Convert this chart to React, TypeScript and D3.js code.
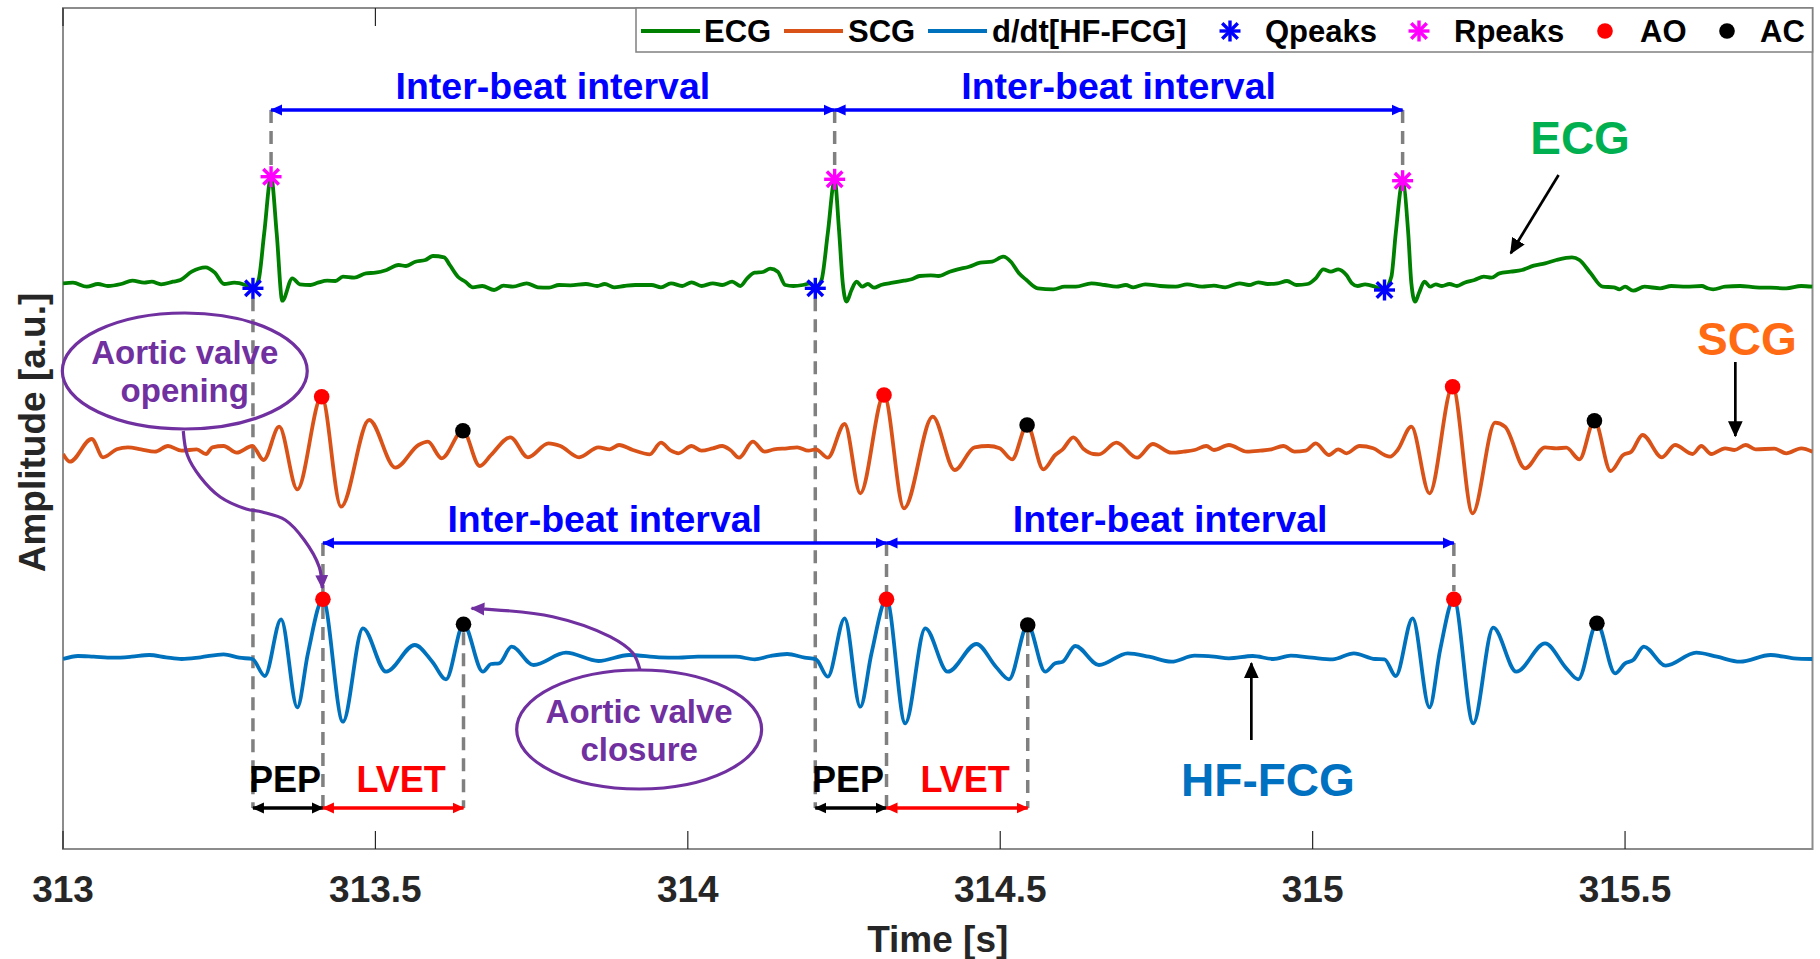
import React from 'react';
import * as d3 from 'd3';

type P = [number, number];

// ---------- axes ----------
const xDomain: [number, number] = [313, 315.8];
const yDomain: [number, number] = [0, 8.41];
const xTicks = [313, 313.5, 314, 314.5, 315, 315.5];
const xTickLabels = ['313', '313.5', '314', '314.5', '315', '315.5'];

// ---------- signals (time [s], amplitude [a.u.]) ----------
const ecg: P[] = [
  [313.000,5.657],[313.016,5.663],[313.038,5.623],[313.056,5.65],[313.072,5.63],[313.093,5.65],[313.111,5.683],[313.130,5.663],[313.142,5.673],[313.157,5.647],
  [313.176,5.673],[313.188,5.69],[313.206,5.773],[313.228,5.817],[313.243,5.763],[313.258,5.65],[313.274,5.663],[313.292,5.64],[313.304,5.607],[313.313,5.69],
  [313.322,6.157],[313.333,6.723],[313.342,6.157],[313.351,5.483],[313.367,5.707],[313.379,5.647],[313.396,5.64],[313.408,5.663],[313.423,5.683],[313.436,5.68],
  [313.448,5.723],[313.466,5.713],[313.485,5.757],[313.500,5.763],[313.518,5.79],[313.537,5.84],[313.549,5.83],[313.564,5.873],[313.580,5.89],[313.592,5.93],
  [313.610,5.917],[313.619,5.84],[313.632,5.723],[313.644,5.673],[313.656,5.617],[313.671,5.63],[313.690,5.59],[313.705,5.633],[313.720,5.623],[313.742,5.657],
  [313.760,5.617],[313.778,5.613],[313.794,5.64],[313.812,5.637],[313.837,5.65],[313.855,5.63],[313.867,5.65],[313.882,5.617],[313.898,5.63],[313.916,5.64],
  [313.942,5.64],[313.957,5.617],[313.973,5.657],[313.991,5.63],[314.006,5.667],[314.022,5.63],[314.040,5.657],[314.055,5.64],[314.071,5.673],[314.084,5.63],
  [314.095,5.707],[314.107,5.763],[314.120,5.77],[314.132,5.803],[314.144,5.773],[314.156,5.64],[314.169,5.63],[314.184,5.64],[314.196,5.657],[314.204,5.607],
  [314.214,5.69],[314.224,6.157],[314.235,6.69],[314.242,6.19],[314.248,5.657],[314.254,5.473],[314.262,5.59],[314.270,5.673],[314.279,5.623],[314.288,5.65],
  [314.298,5.613],[314.309,5.64],[314.328,5.663],[314.346,5.683],[314.358,5.697],[314.371,5.73],[314.389,5.737],[314.401,5.73],[314.419,5.773],[314.432,5.797],
  [314.450,5.823],[314.468,5.863],[314.487,5.873],[314.505,5.923],[314.517,5.873],[314.530,5.757],[314.542,5.69],[314.560,5.607],[314.585,5.597],[314.603,5.623],
  [314.621,5.623],[314.646,5.657],[314.667,5.64],[314.686,5.623],[314.701,5.64],[314.713,5.617],[314.732,5.647],[314.756,5.63],[314.781,5.623],[314.799,5.647],
  [314.823,5.623],[314.842,5.633],[314.860,5.617],[314.883,5.657],[314.898,5.64],[314.913,5.667],[314.928,5.65],[314.944,5.657],[314.959,5.68],[314.974,5.64],
  [314.992,5.65],[315.005,5.707],[315.017,5.797],[315.029,5.773],[315.041,5.797],[315.054,5.74],[315.063,5.657],[315.072,5.63],[315.084,5.647],[315.100,5.623],
  [315.114,5.59],[315.126,5.723],[315.133,6.157],[315.144,6.673],[315.153,6.157],[315.158,5.657],[315.164,5.473],[315.170,5.557],[315.179,5.673],[315.188,5.623],
  [315.197,5.647],[315.207,5.63],[315.219,5.65],[315.231,5.63],[315.243,5.663],[315.259,5.69],[315.274,5.723],[315.286,5.713],[315.299,5.757],[315.317,5.773],
  [315.335,5.79],[315.354,5.833],[315.372,5.857],[315.390,5.89],[315.415,5.917],[315.427,5.89],[315.445,5.757],[315.464,5.623],[315.482,5.617],[315.491,5.597],
  [315.500,5.623],[315.513,5.583],[315.531,5.623],[315.556,5.607],[315.574,5.63],[315.598,5.623],[315.623,5.63],[315.632,5.607],[315.641,5.597],[315.660,5.623],
  [315.684,5.63],[315.709,5.617],[315.733,5.613],[315.758,5.607],[315.782,5.63],[315.800,5.623],
];

const scg: P[] = [
  [313.000,3.95],[313.011,3.873],[313.046,4.10],[313.064,3.917],[313.086,3.997],[313.104,4.017],[313.125,3.997],[313.147,3.973],[313.168,4.03],[313.190,3.983],
  [313.214,3.997],[313.229,3.95],[313.239,4.017],[313.257,4.03],[313.278,3.963],[313.303,4.03],[313.321,3.89],[313.346,4.223],[313.375,3.597],[313.414,4.523],
  [313.445,3.423],[313.490,4.29],[313.532,3.813],[313.569,4.04],[313.584,4.073],[313.606,3.907],[313.640,4.183],[313.667,3.83],[313.685,3.94],[313.716,4.117],
  [313.744,3.917],[313.777,4.057],[313.796,4.03],[313.826,3.917],[313.857,4.017],[313.875,3.997],[313.890,4.04],[313.912,3.99],[313.939,3.947],[313.957,4.063],
  [313.973,3.983],[313.985,3.957],[314.006,4.03],[314.022,3.983],[314.040,4.007],[314.055,4.03],[314.068,3.99],[314.082,3.913],[314.104,4.073],[314.123,3.973],
  [314.138,3.997],[314.159,4.007],[314.175,4.017],[314.193,3.983],[314.205,3.997],[314.224,3.913],[314.251,4.25],[314.276,3.557],[314.314,4.54],[314.346,3.407],
  [314.392,4.323],[314.427,3.79],[314.459,4.017],[314.481,4.03],[314.499,4.007],[314.519,3.897],[314.543,4.24],[314.569,3.797],[314.588,3.94],[314.600,3.997],
  [314.617,4.117],[314.634,3.997],[314.649,3.95],[314.658,3.947],[314.686,4.063],[314.719,3.913],[314.744,4.05],[314.774,3.963],[314.793,3.973],[314.811,3.99],
  [314.830,4.03],[314.842,3.99],[314.866,4.04],[314.895,3.973],[314.916,3.983],[314.934,3.997],[314.953,4.03],[314.971,3.973],[314.989,3.983],[315.005,4.057],
  [315.026,3.94],[315.041,3.997],[315.054,3.957],[315.075,4.03],[315.097,4.007],[315.115,3.94],[315.124,3.923],[315.136,3.99],[315.158,4.223],[315.187,3.557],
  [315.224,4.623],[315.256,3.357],[315.292,4.263],[315.308,4.223],[315.340,3.807],[315.372,4.017],[315.390,4.007],[315.406,4.013],[315.427,3.897],[315.451,4.283],
  [315.477,3.78],[315.497,3.94],[315.510,3.973],[315.528,4.14],[315.559,3.917],[315.580,4.04],[315.608,3.95],[315.622,4.03],[315.638,3.95],[315.660,4.007],
  [315.675,3.99],[315.693,4.04],[315.709,3.997],[315.739,4.003],[315.758,3.957],[315.782,4.007],[315.800,3.973],
];

const fcg: P[] = [
  [313.000,1.9],[313.024,1.93],[313.049,1.923],[313.080,1.913],[313.110,1.923],[313.138,1.94],[313.165,1.917],[313.190,1.9],[313.220,1.917],[313.257,1.947],
  [313.282,1.913],[313.303,1.9],[313.323,1.73],[313.349,2.297],[313.375,1.417],[313.392,1.957],[313.416,2.497],[313.448,1.273],[313.480,2.207],[313.517,1.773],
  [313.563,2.04],[313.591,1.873],[313.613,1.697],[313.641,2.247],[313.672,1.773],[313.685,1.85],[313.698,1.857],[313.718,2.023],[313.753,1.84],[313.805,1.963],
  [313.857,1.88],[313.906,1.94],[313.954,1.917],[313.985,1.913],[314.016,1.923],[314.046,1.923],[314.077,1.923],[314.107,1.897],[314.132,1.93],[314.159,1.95],
  [314.187,1.913],[314.205,1.897],[314.224,1.723],[314.251,2.307],[314.276,1.423],[314.294,1.957],[314.318,2.497],[314.348,1.257],[314.380,2.207],[314.416,1.773],
  [314.462,2.05],[314.493,1.823],[314.514,1.697],[314.544,2.24],[314.572,1.773],[314.588,1.857],[314.600,1.873],[314.620,2.03],[314.658,1.84],[314.704,1.957],
  [314.738,1.923],[314.774,1.873],[314.811,1.933],[314.842,1.923],[314.866,1.907],[314.904,1.93],[314.937,1.9],[314.965,1.933],[314.999,1.913],[315.032,1.897],
  [315.066,1.957],[315.100,1.9],[315.115,1.897],[315.133,1.73],[315.160,2.307],[315.187,1.417],[315.204,1.99],[315.226,2.497],[315.257,1.257],[315.289,2.213],
  [315.326,1.773],[315.372,2.057],[315.406,1.807],[315.425,1.697],[315.455,2.257],[315.484,1.757],[315.500,1.857],[315.513,1.89],[315.530,2.023],[315.565,1.833],
  [315.614,1.963],[315.647,1.923],[315.684,1.873],[315.733,1.94],[315.770,1.907],[315.800,1.9],
];

// ---------- detected fiducial points ----------
const qPeaks: P[] = [[313.304,5.607],[314.204,5.607],[315.115,5.59]];
const rPeaks: P[] = [[313.333,6.723],[314.235,6.697],[315.144,6.683]];
const scgAO: P[] = [[313.414,4.523],[314.314,4.54],[315.224,4.623]];
const scgAC: P[] = [[313.640,4.183],[314.543,4.24],[315.451,4.283]];
const fcgAO: P[] = [[313.416,2.497],[314.318,2.497],[315.226,2.497]];
const fcgAC: P[] = [[313.641,2.247],[314.544,2.24],[315.455,2.257]];

// ---------- annotation levels (a.u.) ----------
const ibiTopLevel = 7.39;
const ibiTopLabel = 7.5;
const ibiLowLevel = 3.06;
const ibiLowLabel = 3.17;
const intervalLevel = 0.41;
const intervalLabel = 0.575;
const pepBeats = [0, 1];

const signalLabels = [
  { text: 'ECG', t: 315.428, v: 6.95, color: '#00B050' },
  { text: 'SCG', t: 315.695, v: 4.94, color: '#FF6A13' },
  { text: 'HF-FCG', t: 314.9285, v: 0.53, color: '#0070C0' },
];
const labelArrows: [P, P][] = [
  [[315.3936, 6.74], [315.3171, 5.957]],
  [[315.6765, 4.87], [315.6765, 4.13]],
  [[314.9019, 1.09], [314.9019, 1.857]],
];

const openingCurve: P[] = [
  [313.1925,4.18],[313.199,3.94],[313.2197,3.72],[313.2517,3.52],[313.2933,3.40],[313.3189,3.37],
  [313.3557,3.29],[313.3861,3.09],[313.4101,2.82],[313.4149,2.61],
];
const closureCurve: P[] = [
  [313.9234,1.79],[313.9123,1.957],[313.8755,2.123],[313.7837,2.323],[313.6539,2.407],
];
const callouts = [
  { lines: ['Aortic valve', 'opening'], t: 313.1949, v: 4.78, dt: 0.196, dv: 0.58, curve: openingCurve },
  { lines: ['Aortic valve', 'closure'], t: 313.9221, v: 1.195, dt: 0.196, dv: 0.595, curve: closureCurve },
];

// ---------- layout ----------
const W = 1820, H = 959;
const L = 63, R = 1812.5, T = 8, B = 849;
const FONT = '"Liberation Sans", Arial, Helvetica, sans-serif';

const COLORS = {
  ecg: '#008000', scg: '#D95319', fcg: '#0072BD',
  q: '#0000FF', r: '#FF00FF', ao: '#FF0000', ac: '#000000',
  blue: '#0000FF', purple: '#7030A0', red: '#FF0000', grid: '#808080', text: '#262626',
};

const Star = ({ cx, cy, color, r = 10.5 }: { cx: number; cy: number; color: string; r?: number }) => {
  const d = r * 0.74;
  return (
    <g stroke={color} strokeWidth={3.4} strokeLinecap="butt">
      <line x1={cx} y1={cy - r} x2={cx} y2={cy + r} />
      <line x1={cx - r} y1={cy} x2={cx + r} y2={cy} />
      <line x1={cx - d} y1={cy - d} x2={cx + d} y2={cy + d} />
      <line x1={cx - d} y1={cy + d} x2={cx + d} y2={cy - d} />
    </g>
  );
};

export default function App() {
  const x = d3.scaleLinear().domain(xDomain).range([L, R]);
  const y = d3.scaleLinear().domain(yDomain).range([B, T]);
  const line = d3.line<P>().x((d) => x(d[0])).y((d) => y(d[1])).curve(d3.curveMonotoneX);
  const curveLine = d3.line<P>().x((d) => x(d[0])).y((d) => y(d[1])).curve(d3.curveCatmullRom);

  const dashed = (t: number, v1: number, v2: number, k: string) => (
    <line key={k} x1={x(t)} x2={x(t)} y1={y(v1)} y2={y(v2)} stroke={COLORS.grid} strokeWidth={3.5} strokeDasharray="13,8" />
  );

  const arrowMarkers = [
    { id: 'ah-blue', c: COLORS.blue, s: 12 },
    { id: 'ah-black', c: '#000000', s: 12 },
    { id: 'ah-red', c: COLORS.red, s: 12 },
    { id: 'ah-purple', c: COLORS.purple, s: 14 },
    { id: 'ah-blk2', c: '#000000', s: 16 },
  ];

  const dblArrow = (t1: number, t2: number, v: number, id: string, color: string, k: string) => (
    <line key={k} x1={x(t1)} x2={x(t2)} y1={y(v)} y2={y(v)} stroke={color} strokeWidth={3.3}
      markerStart={`url(#${id})`} markerEnd={`url(#${id})`} />
  );

  const rrPairs = d3.pairs(rPeaks);
  const aoPairs = d3.pairs(fcgAO);

  const legendY = 31;
  const legendBase = 42;
  const legendItems = [
    { kind: 'line', color: COLORS.ecg, label: 'ECG', sx: 641, tx: 704 },
    { kind: 'line', color: COLORS.scg, label: 'SCG', sx: 784, tx: 848 },
    { kind: 'line', color: COLORS.fcg, label: 'd/dt[HF-FCG]', sx: 928, tx: 992 },
    { kind: 'star', color: COLORS.q, label: 'Qpeaks', sx: 1230, tx: 1265 },
    { kind: 'star', color: COLORS.r, label: 'Rpeaks', sx: 1419, tx: 1454 },
    { kind: 'dot', color: COLORS.ao, label: 'AO', sx: 1605, tx: 1640 },
    { kind: 'dot', color: COLORS.ac, label: 'AC', sx: 1727, tx: 1760 },
  ];

  return (
    <svg width={W} height={H} style={{ position: 'absolute', left: 0, top: 0, background: '#fff' }}
      fontFamily={FONT} fontWeight="bold">
      <defs>
        <clipPath id="plot"><rect x={L} y={T} width={R - L} height={B - T} /></clipPath>
        {arrowMarkers.map((m) => (
          <marker key={m.id} id={m.id} viewBox="0 0 12 12" refX={11} refY={6}
            markerWidth={m.s} markerHeight={m.s} markerUnits="userSpaceOnUse" orient="auto-start-reverse">
            <path d="M0,0.5 L12,6 L0,11.5 Z" fill={m.c} />
          </marker>
        ))}
      </defs>

      <rect x={0} y={0} width={W} height={H} fill="#fff" />

      {/* axes box and ticks */}
      <rect x={L} y={T} width={R - L} height={B - T} fill="none" stroke="#8c8c8c" strokeWidth={2} />
      {xTicks.map((t) => (
        <g key={t} stroke={COLORS.text} strokeWidth={1.2}>
          <line x1={x(t)} x2={x(t)} y1={B} y2={B - 18} />
          <line x1={x(t)} x2={x(t)} y1={T} y2={T + 18} />
        </g>
      ))}
      {xTicks.map((t, i) => (
        <text key={'l' + t} x={x(t)} y={902} textAnchor="middle" fontSize={37} fill={COLORS.text}>{xTickLabels[i]}</text>
      ))}
      <text x={(L + R) / 2} y={952} textAnchor="middle" fontSize={37} fill={COLORS.text}>Time [s]</text>
      <text transform={`translate(32,${(T + B) / 2 + 4}) rotate(-90)`} textAnchor="middle" dy="0.36em" fontSize={37} fill={COLORS.text}>
        Amplitude [a.u.]
      </text>

      {/* dashed guide lines */}
      <g clipPath="url(#plot)">
        {rPeaks.map((p, i) => dashed(p[0], ibiTopLevel, p[1] + 0.11, 'r' + i))}
        {pepBeats.map((i) => dashed(qPeaks[i][0], qPeaks[i][1] - 0.1, intervalLevel, 'q' + i))}
        {fcgAO.map((p, i) => dashed(p[0], ibiLowLevel, pepBeats.includes(i) ? intervalLevel : p[1] + 0.08, 'ao' + i))}
        {pepBeats.map((i) => dashed(fcgAC[i][0], fcgAC[i][1] - 0.08, intervalLevel, 'ac' + i))}
      </g>

      {/* signals */}
      <g clipPath="url(#plot)" fill="none" strokeWidth={3.8} strokeLinejoin="round">
        <path d={line(ecg) ?? ''} stroke={COLORS.ecg} />
        <path d={line(scg) ?? ''} stroke={COLORS.scg} />
        <path d={line(fcg) ?? ''} stroke={COLORS.fcg} />
      </g>

      {/* fiducial markers */}
      {qPeaks.map((p, i) => <Star key={'qs' + i} cx={x(p[0])} cy={y(p[1])} color={COLORS.q} />)}
      {rPeaks.map((p, i) => <Star key={'rs' + i} cx={x(p[0])} cy={y(p[1])} color={COLORS.r} />)}
      {[...scgAO, ...fcgAO].map((p, i) => <circle key={'ao' + i} cx={x(p[0])} cy={y(p[1])} r={7.8} fill={COLORS.ao} />)}
      {[...scgAC, ...fcgAC].map((p, i) => <circle key={'ac' + i} cx={x(p[0])} cy={y(p[1])} r={7.8} fill={COLORS.ac} />)}

      {/* inter-beat intervals */}
      {rrPairs.map(([a, b], i) => (
        <g key={'rr' + i}>
          {dblArrow(a[0], b[0], ibiTopLevel, 'ah-blue', COLORS.blue, 'rra' + i)}
          <text x={x((a[0] + b[0]) / 2)} y={y(ibiTopLabel)} textAnchor="middle" fontSize={37.5} fill={COLORS.blue}>Inter-beat interval</text>
        </g>
      ))}
      {aoPairs.map(([a, b], i) => (
        <g key={'aa' + i}>
          {dblArrow(a[0], b[0], ibiLowLevel, 'ah-blue', COLORS.blue, 'aoa' + i)}
          <text x={x((a[0] + b[0]) / 2)} y={y(ibiLowLabel)} textAnchor="middle" fontSize={37.5} fill={COLORS.blue}>Inter-beat interval</text>
        </g>
      ))}

      {/* PEP / LVET */}
      {pepBeats.map((i) => (
        <g key={'pep' + i}>
          {dblArrow(qPeaks[i][0], fcgAO[i][0], intervalLevel, 'ah-black', '#000', 'pa' + i)}
          {dblArrow(fcgAO[i][0], fcgAC[i][0], intervalLevel, 'ah-red', COLORS.red, 'la' + i)}
          <text x={x((qPeaks[i][0] + fcgAO[i][0]) / 2) - 3} y={y(intervalLabel)} textAnchor="middle" fontSize={36} fill="#000">PEP</text>
          <text x={x((fcgAO[i][0] + fcgAC[i][0]) / 2) + 8} y={y(intervalLabel)} textAnchor="middle" fontSize={36} fill={COLORS.red}>LVET</text>
        </g>
      ))}

      {/* callouts */}
      {callouts.map((c, i) => {
        const cx = x(c.t), cy = y(c.v);
        const rx = x(c.t + c.dt) - cx, ry = cy - y(c.v + c.dv);
        return (
          <g key={'co' + i}>
            <ellipse cx={cx} cy={cy} rx={rx} ry={ry} fill="none" stroke={COLORS.purple} strokeWidth={3.2} />
            <text x={cx} y={cy - 7} textAnchor="middle" fontSize={33} fill={COLORS.purple}>{c.lines[0]}</text>
            <text x={cx} y={cy + 31} textAnchor="middle" fontSize={33} fill={COLORS.purple}>{c.lines[1]}</text>
            <path d={curveLine(c.curve) ?? ''} fill="none" stroke={COLORS.purple} strokeWidth={3.2} markerEnd="url(#ah-purple)" />
          </g>
        );
      })}

      {/* signal name labels */}
      {signalLabels.map((s) => (
        <text key={s.text} x={x(s.t)} y={y(s.v)} textAnchor="middle" fontSize={46} fill={s.color}>{s.text}</text>
      ))}
      {labelArrows.map(([a, b], i) => (
        <line key={'la' + i} x1={x(a[0])} y1={y(a[1])} x2={x(b[0])} y2={y(b[1])} stroke="#000" strokeWidth={2.7} markerEnd="url(#ah-blk2)" />
      ))}

      {/* legend */}
      <rect x={636} y={T} width={R - 636} height={44} fill="#fff" stroke="#808080" strokeWidth={1.5} />
      {legendItems.map((it) => (
        <g key={it.label}>
          {it.kind === 'line' && <line x1={it.sx} x2={it.sx + 59} y1={legendY} y2={legendY} stroke={it.color} strokeWidth={3.8} />}
          {it.kind === 'star' && <Star cx={it.sx} cy={legendY} color={it.color} />}
          {it.kind === 'dot' && <circle cx={it.sx} cy={legendY} r={7.8} fill={it.color} />}
          <text x={it.tx} y={legendBase} fontSize={31} fill="#000">{it.label}</text>
        </g>
      ))}
    </svg>
  );
}
